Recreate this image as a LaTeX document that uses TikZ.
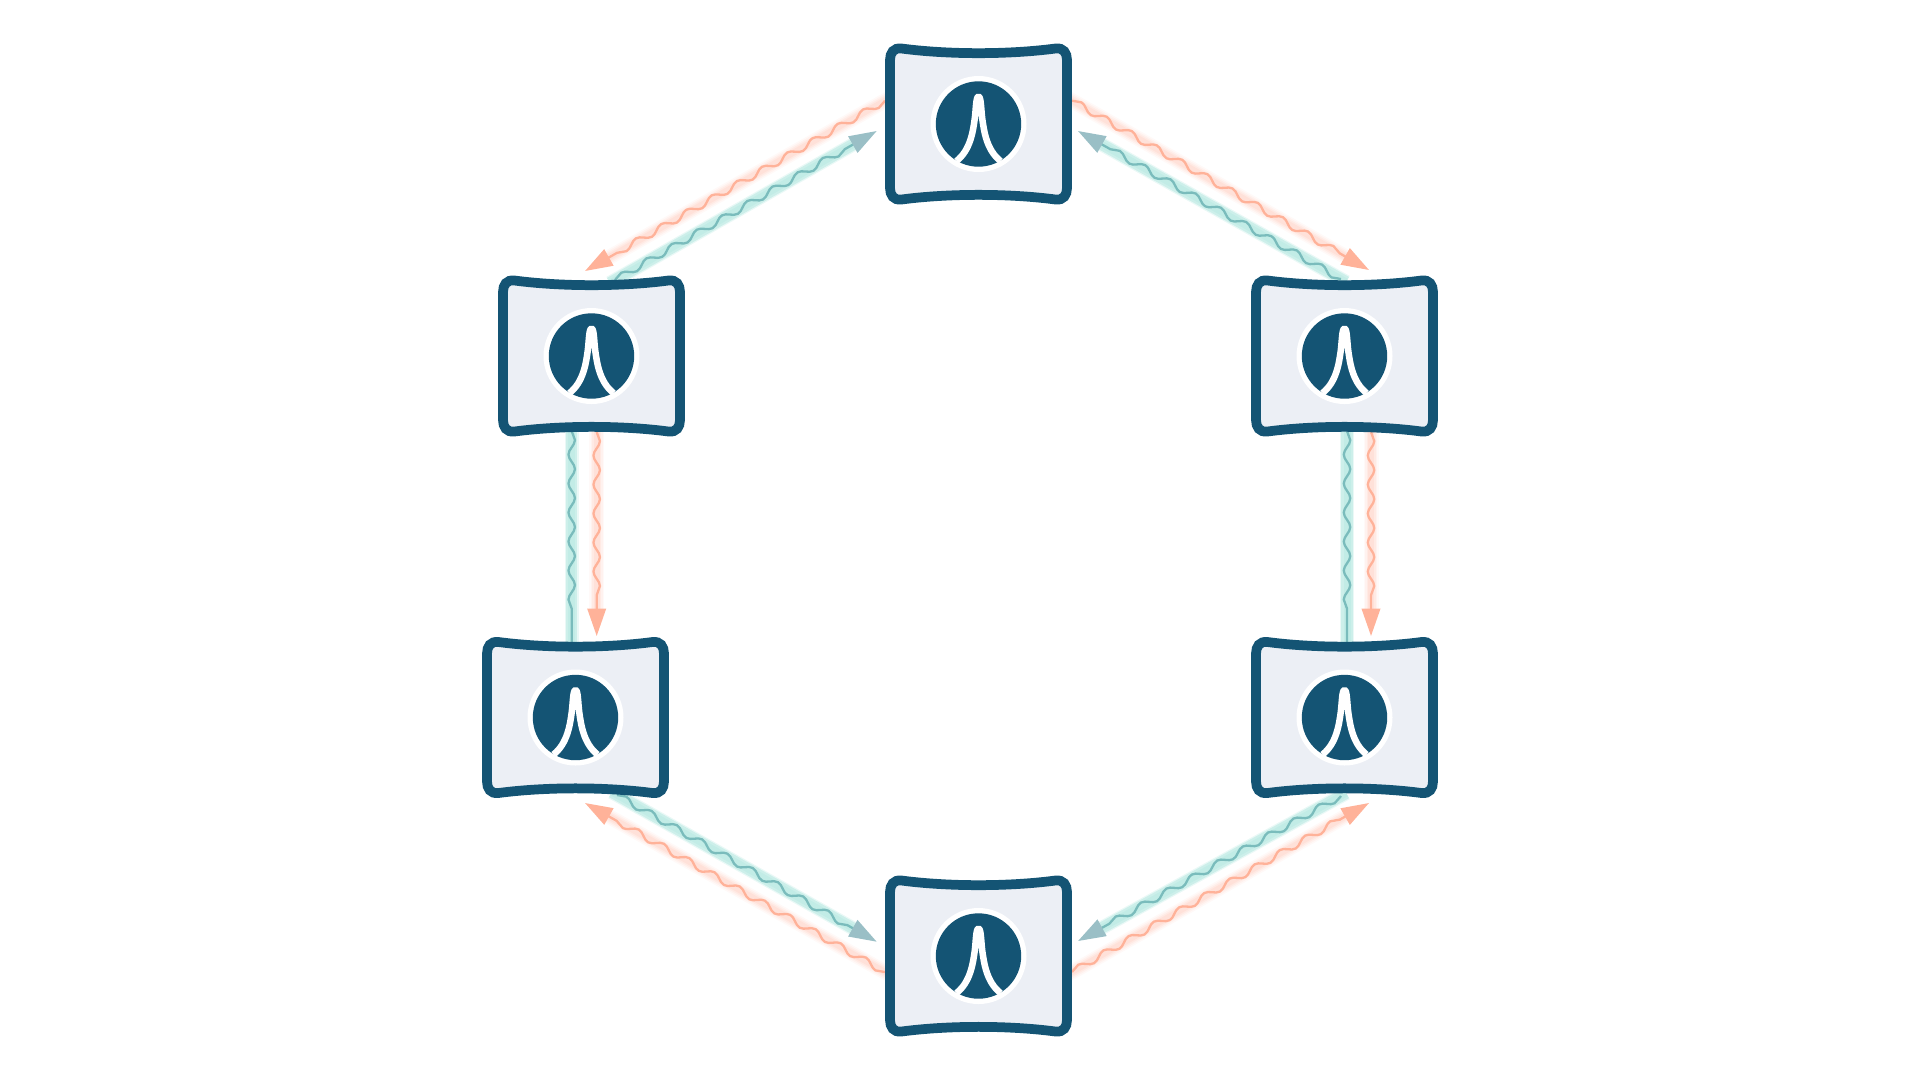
\documentclass[tikz,border=0pt]{standalone}
\usetikzlibrary{arrows.meta, calc, backgrounds, decorations.pathmorphing}
\definecolor{cavity_blue}{RGB}{20, 84, 116}
\definecolor{cavity_fill}{RGB}{236, 239, 245}
\definecolor{red_wave}{RGB}{255, 178, 153}
\definecolor{red_glow}{RGB}{255, 200, 185}
\definecolor{teal_wave}{RGB}{122, 188, 188}
\definecolor{teal_glow}{RGB}{150, 222, 212}
\definecolor{teal_tip}{RGB}{154, 191, 198}

\begin{document}
\begin{tikzpicture}[
    x=0.02cm,
    y=-0.02cm,
    redtip/.tip={Triangle[length=0.55cm, width=0.37cm, color=red_wave]},
    tealtip/.tip={Triangle[length=0.55cm, width=0.37cm, color=teal_tip]},
    cavity/.style={
        rectangle,
        minimum width=3.8cm,
        minimum height=3.26cm,
        inner sep=0pt,
        path picture={
            \begin{scope}[shift={(path picture bounding box.center)}]
            % Curved mirrors and side walls
            \draw[draw=cavity_blue, fill=cavity_fill, line width=0.195cm]
                (-88.5,-64) .. controls (-88.5,-71) and (-85,-76.5) .. (-77,-75.5)
                .. controls (-30,-69.3) and (30,-69.3) .. (77,-75.5)
                .. controls (85,-76.5) and (88.5,-71) .. (88.5,-64)
                -- (88.5,64)
                .. controls (88.5,71) and (85,76.5) .. (77,75.5)
                .. controls (30,69.3) and (-30,69.3) .. (-77,75.5)
                .. controls (-85,76.5) and (-88.5,71) .. (-88.5,64)
                -- cycle;
            % Resonance icon
            \fill[white] (0,0) circle[radius=48];
            \fill[cavity_blue] (0,0) circle[radius=42.7];
            \draw[white, line width=0.13cm, line join=round]
                (-22,37) .. controls (-8,26) and (-5.5,7) .. (-3.8,-5)
                .. controls (-2.5,-15) and (-2.6,-27.5) .. (0,-27.5)
                .. controls (2.6,-27.5) and (2.5,-15) .. (3.8,-5)
                .. controls (5.5,7) and (8,26) .. (22,37);
            \end{scope}
        }
    },
    wave/.style n args={2}{
        postaction={
            draw=#1,
            line width=0.046cm,
            #2,
            decorate,
            decoration={snake, segment length=0.58cm, amplitude=0.065cm, post length=0.56cm}
        }
    },
    redglow/.style={
        preaction={draw=red_glow, line width=0.30cm, opacity=0.10, shorten <=-0.12cm, shorten >=#1},
        preaction={draw=red_glow, line width=0.24cm, opacity=0.15, shorten <=-0.12cm, shorten >=#1},
        preaction={draw=red_glow, line width=0.18cm, opacity=0.20, shorten <=-0.12cm, shorten >=#1},
        preaction={draw=red_glow, line width=0.12cm, opacity=0.25, shorten <=-0.12cm, shorten >=#1}
    },
    tealglow/.style={
        preaction={draw=teal_glow, line width=0.28cm, opacity=0.20, shorten <=-0.12cm, shorten >=#1},
        preaction={draw=teal_glow, line width=0.23cm, opacity=0.35, shorten <=-0.12cm, shorten >=#1},
        preaction={draw=teal_glow, line width=0.14cm, opacity=0.20, shorten <=-0.12cm, shorten >=#1}
    },
    redflow/.style={redglow=0.54cm, wave={red_wave}{-redtip}},
    tealflow/.style={tealglow=0.54cm, wave={teal_wave}{-tealtip}},
    tealplain/.style={tealglow=0cm, wave={teal_wave}{-}}
]
\useasboundingbox (0,0) rectangle (1920,1080);

% Cavities
\node[cavity] (top) at (978.5,124) {};
\node[cavity] (upleft) at (591.5,356) {};
\node[cavity] (upright) at (1344.5,356) {};
\node[cavity] (lowleft) at (575.5,717.5) {};
\node[cavity] (lowright) at (1344.5,717.5) {};
\node[cavity] (bottom) at (978.5,956) {};

\begin{scope}[on background layer]
% Red arrows
\path[redflow] ($(top)+(-93.5,-23.3)$) -- ($(upleft)+(-6.5,-85)$);
\path[redflow] ($(top)+(93.5,-23.3)$) -- ($(upright)+(24.5,-86)$);
\path[redflow] ($(upleft)+(5.2,76)$) -- ($(lowleft)+(21.2,-81.5)$);
\path[redflow] ($(upright)+(26.5,76)$) -- ($(lowright)+(26.5,-81.5)$);
\path[redflow] ($(bottom)+(-93.5,16)$) -- ($(lowleft)+(9.5,85.5)$);
\path[redflow] ($(bottom)+(93.5,16)$) -- ($(lowright)+(24.5,85.5)$);

% Teal arrows
\path[tealflow] ($(upleft)+(23.5,-76)$) -- ($(top)+(-101.8,7)$);
\path[tealflow] ($(upright)+(-3.5,-77)$) -- ($(top)+(99.5,7)$);
\path[tealplain] ($(upleft)+(-19.8,75)$) -- ($(lowleft)+(-3.8,-72)$);
\path[tealplain] ($(upright)+(2.5,75)$) -- ($(lowright)+(2.5,-72)$);
\path[tealflow] ($(lowleft)+(41.5,77.5)$) -- ($(bottom)+(-101.8,-14.3)$);
\path[tealflow] ($(lowright)+(-3.5,78.5)$) -- ($(bottom)+(99.5,-15)$);
\end{scope}

\end{tikzpicture}
\end{document}
